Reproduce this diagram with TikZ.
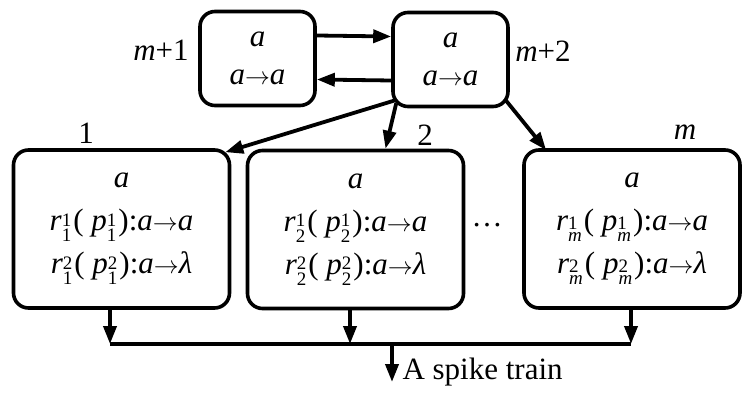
\documentclass[tikz,border=0pt]{standalone}
\usepackage{fontspec}
\setmainfont{Liberation Serif}
\usetikzlibrary{arrows.meta}
\newcommand{\va}{\textit{a}}
\newcommand{\fire}{\ensuremath{\rightarrow}}
\newcommand{\rp}[3]{\textit{#1}\raisebox{-11pt}{\fontsize{19}{19}\selectfont\shortstack[l]{#2\\#3}}\kern2pt}

\begin{document}
\begin{tikzpicture}[x=1pt,y=-1pt,
  cell/.style={draw, line width=3.6pt, rounded corners=15pt, align=center, inner sep=0pt},
  topcell/.style={cell, minimum width=115pt, minimum height=94pt, font=\fontsize{31}{38}\selectfont},
  neuron/.style={cell, minimum width=216pt, minimum height=158pt, font=\fontsize{31}{43}\selectfont},
  arr/.style={line width=3.8pt, -{Triangle[length=18pt,width=13pt]}},
  lbl/.style={font=\fontsize{31}{36}\selectfont}]
  \useasboundingbox (0,0) rectangle (744,395);
  \node[topcell] (m1) at (257.5,58.5) {\va\\\va\fire\va};
  \node[topcell] (m2) at (450.5,59.5) {\va\\\va\fire\va};
  \node[lbl, anchor=east] (l1) at ([xshift=-6pt,yshift=8pt]m1.west) {\textit{m}+1};
  \node[lbl, anchor=west] (l2) at ([xshift=2pt,yshift=8pt]m2.east) {\textit{m}+2};
  \node[neuron] (b1) at (121.5,229) {\va\\\rp{r}{1}{1}( \rp{p}{1}{1}):\va\fire\va\\\rp{r}{2}{1}( \rp{p}{2}{1}):\va\fire\textit{λ}};
  \node[neuron] (b2) at (355.5,229.5) {\va\\\rp{r}{1}{2}( \rp{p}{1}{2}):\va\fire\va\\\rp{r}{2}{2}( \rp{p}{2}{2}):\va\fire\textit{λ}};
  \node[neuron] (bm) at (632,229) {\va\\\rp{r}{1}{\textit{m}}( \rp{p}{1}{\textit{m}}):\va\fire\va\\\rp{r}{2}{\textit{m}}( \rp{p}{2}{\textit{m}}):\va\fire\textit{λ}};
  \node[lbl] (n1) at (86,133) {1};
  \node[lbl] (n2) at (425,135) {2};
  \node[lbl] (nm) at (685,132) {\textit{m}};
  \node[lbl] (dots) at (487,225) {…};
  \draw[arr] ([yshift=23pt]m1.east) -- ([yshift=23pt]m2.west);
  \draw[arr] ([yshift=-21pt]m2.west) -- ([yshift=-21pt]m1.east);
  \draw[arr] ([shift={(4pt,8pt)}]m2.south west) -- ([shift={(-6pt,-4pt)}]b1.north east);
  \draw[arr] ([shift={(5pt,5pt)}]m2.south west) -- ([xshift=30pt]b2.north);
  \draw[arr] ([shift={(-4pt,8pt)}]m2.south east) -- ([shift={(24pt,-2pt)}]bm.north west);
  \coordinate (j1) at (110,344);
  \coordinate (j2) at (350,344);
  \coordinate (jm) at (631,344);
  \coordinate (jo) at (392,344);
  \coordinate (out) at (392,382);
  \draw[arr] (b1.south -| j1) -- (j1);
  \draw[arr] (b2.south -| j2) -- (j2);
  \draw[arr] (bm.south -| jm) -- (jm);
  \draw[line width=3.8pt] (j1) -- (jm);
  \draw[arr] (jo) -- (out);
  \node[lbl, anchor=west] (train) at (399,372) {A spike train};
\end{tikzpicture}
\end{document}
